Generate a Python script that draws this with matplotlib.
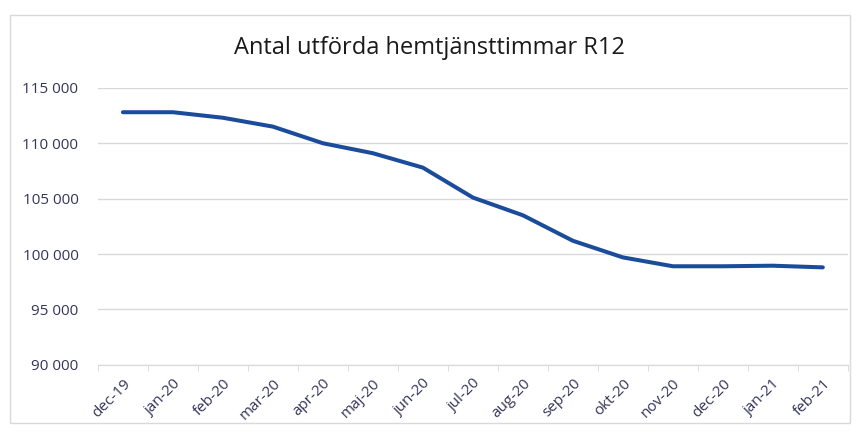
import matplotlib.pyplot as plt
from matplotlib.patches import Rectangle
from matplotlib.ticker import FuncFormatter, FixedLocator
import numpy as np

# Data
months = ['dec-19', 'jan-20', 'feb-20', 'mar-20', 'apr-20', 'maj-20', 'jun-20', 'jul-20',
          'aug-20', 'sep-20', 'okt-20', 'nov-20', 'dec-20', 'jan-21', 'feb-21']
hours = [112800, 112800, 112300, 111500, 110000, 109100, 107800, 105100,
         103500, 101200, 99700, 98900, 98900, 98950, 98800]

plt.rcParams['font.family'] = ['Open Sans', 'DejaVu Sans']

fig = plt.figure(figsize=(8.59, 4.37), dpi=100)
ax = fig.add_axes([0.114, 0.165, 0.873, 0.634])

# chart border
fig.patches.append(Rectangle((10 / 859, 1 - 423 / 437), 840 / 859, 408 / 437,
                             transform=fig.transFigure, fill=False,
                             edgecolor='#d9d9d9', linewidth=1))

x = np.arange(len(months))
ax.plot(x, hours, color='#1b4c9c', linewidth=2.9, solid_joinstyle='round',
        solid_capstyle='round')

ax.set_xlim(-0.5, len(months) - 0.5)
ax.set_ylim(90000, 115000)
ax.set_yticks(range(90000, 115001, 5000))
ax.yaxis.set_major_formatter(FuncFormatter(lambda v, p: f'{int(v):,}'.replace(',', ' ')))
ax.grid(axis='y', color='#d9d9d9', linewidth=1)
ax.set_axisbelow(True)

ax.set_xticks(x)
ax.set_xticklabels(months, rotation=45, ha='right', rotation_mode='anchor')
ax.xaxis.set_minor_locator(FixedLocator(np.arange(-0.5, len(months), 1)))
ax.tick_params(axis='x', which='major', length=0, pad=8, labelsize=11, labelcolor='#35355a')
ax.tick_params(axis='x', which='minor', length=4, color='#d9d9d9')
ax.tick_params(axis='y', length=0, pad=14, labelsize=11, labelcolor='#35355a')

for s in ['top', 'right', 'left']:
    ax.spines[s].set_visible(False)
ax.spines['bottom'].set_color('#d9d9d9')

fig.text(0.5, 1 - 48 / 437, 'Antal utförda hemtjänsttimmar R12', ha='center', va='center',
         fontsize=17, color='#1a1a1a')

fig.savefig('out.png', dpi=100)
